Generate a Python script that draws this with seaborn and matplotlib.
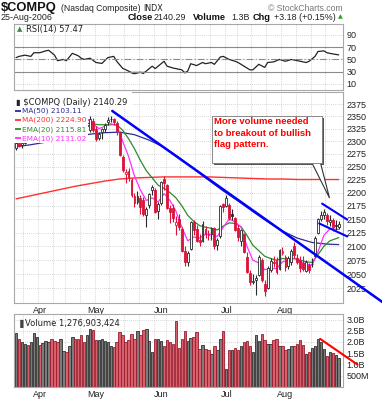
import matplotlib
matplotlib.use("Agg")
import matplotlib.pyplot as plt
from matplotlib.patches import Rectangle, Polygon
from matplotlib.ticker import NullLocator, FixedLocator, FixedFormatter
import seaborn as sns
import numpy as np
import pandas as pd

# ---------------- data ----------------
holidays = ["2006-04-14", "2006-05-29", "2006-07-04"]
dates = pd.bdate_range("2006-03-22", "2006-08-25").drop(pd.to_datetime(holidays))

opens = [2287, 2297, 2292, 2297, 2316, 2305, 2339, 2342,
         2343, 2335, 2346, 2358, 2362, 2340, 2332, 2309, 2310, 2327, 2312, 2354,
         2370, 2368, 2340, 2334, 2331, 2322, 2340,
         2325, 2306, 2318, 2325, 2338, 2344, 2345, 2336, 2318, 2268, 2235, 2241,
         2224, 2194, 2182, 2190, 2185, 2158, 2176, 2205, 2205, 2166,
         2180, 2226, 2214, 2170, 2170, 2140, 2150, 2132, 2092, 2072, 2095, 2144,
         2132, 2112, 2110, 2131, 2122, 2122, 2133, 2102, 2118, 2178,
         2174, 2176, 2160, 2152, 2134, 2110, 2122, 2080, 2052, 2036, 2040, 2048,
         2076, 2032, 2026, 2058, 2072, 2076, 2060, 2088,
         2080, 2064, 2072, 2100, 2078, 2076, 2070, 2056, 2066, 2068, 2082, 2124,
         2150, 2157, 2158, 2144, 2148, 2140, 2136]
highs = [2299, 2303, 2304, 2318, 2322, 2340, 2348, 2350,
         2350, 2347, 2362, 2366, 2368, 2344, 2335, 2318, 2330, 2332, 2358, 2375,
         2374, 2370, 2345, 2338, 2345, 2350, 2346,
         2330, 2318, 2326, 2336, 2348, 2350, 2347, 2340, 2320, 2272, 2246, 2247,
         2228, 2200, 2203, 2196, 2192, 2172, 2200, 2214, 2208, 2182,
         2222, 2232, 2216, 2176, 2178, 2155, 2160, 2136, 2100, 2092, 2146, 2148,
         2140, 2122, 2146, 2138, 2130, 2136, 2135, 2116, 2176, 2180,
         2195, 2180, 2168, 2154, 2140, 2130, 2124, 2090, 2058, 2050, 2048, 2084,
         2078, 2040, 2064, 2078, 2082, 2080, 2096, 2098,
         2084, 2082, 2096, 2108, 2086, 2082, 2082, 2076, 2070, 2078, 2118, 2152,
         2166, 2168, 2162, 2158, 2152, 2148, 2146]
lows = [2283, 2288, 2286, 2295, 2302, 2304, 2332, 2336,
        2330, 2330, 2344, 2352, 2336, 2326, 2305, 2304, 2306, 2303, 2310, 2350,
        2352, 2338, 2328, 2320, 2328, 2318, 2318,
        2300, 2302, 2304, 2318, 2332, 2338, 2333, 2312, 2270, 2240, 2219, 2222,
        2192, 2172, 2178, 2160, 2155, 2136, 2170, 2196, 2162, 2150,
        2176, 2204, 2168, 2142, 2145, 2120, 2130, 2090, 2065, 2065, 2093, 2120,
        2108, 2100, 2108, 2115, 2112, 2112, 2096, 2094, 2116, 2164,
        2172, 2148, 2148, 2128, 2110, 2100, 2088, 2052, 2030, 2032, 2014, 2046,
        2036, 2012, 2024, 2054, 2062, 2050, 2058, 2084,
        2056, 2060, 2066, 2078, 2068, 2054, 2056, 2054, 2052, 2062, 2080, 2122,
        2146, 2150, 2140, 2138, 2128, 2130, 2132]
closes = [2297, 2291, 2296, 2315, 2304, 2338, 2340, 2340,
          2336, 2345, 2359, 2361, 2339, 2331, 2310, 2312, 2326, 2311, 2355, 2371,
          2362, 2342, 2333, 2330, 2333, 2344, 2323,
          2305, 2314, 2324, 2333, 2343, 2345, 2338, 2321, 2273, 2244, 2239, 2229,
          2196, 2180, 2194, 2173, 2159, 2169, 2198, 2210, 2164, 2179,
          2220, 2219, 2170, 2163, 2152, 2145, 2135, 2091, 2072, 2087, 2144, 2130,
          2110, 2107, 2141, 2123, 2121, 2134, 2100, 2112, 2174, 2172,
          2190, 2153, 2155, 2130, 2117, 2129, 2090, 2054, 2037, 2038, 2043, 2081,
          2039, 2020, 2061, 2074, 2070, 2054, 2094, 2091,
          2062, 2079, 2092, 2085, 2072, 2061, 2060, 2072, 2058, 2069, 2115, 2150,
          2158, 2164, 2147, 2148, 2135, 2137, 2140.29]
volume_bn = [2.39, 2.14, 1.99, 1.91, 1.88, 2.00, 2.39, 2.20,
             1.88, 1.94, 2.05, 2.00, 2.15, 2.05, 1.99, 2.14, 1.60, 1.55, 1.80, 2.24,
             2.14, 2.14, 2.33, 1.99, 2.32, 2.58, 2.54,
             2.08, 2.08, 2.14, 2.05, 1.98, 1.83, 1.76, 2.00, 2.45, 2.33, 2.02, 2.08,
             2.36, 2.14, 2.51, 2.29, 2.54, 2.58, 2.05, 1.55, 2.14, 2.14,
             2.05, 1.83, 2.08, 1.99, 1.91, 2.92, 1.73, 2.14, 2.48, 2.05, 2.17, 2.20,
             2.45, 1.70, 1.88, 1.70, 1.63, 1.46, 1.84, 1.63, 2.14, 2.50,
             0.80, 1.63, 1.63, 1.74, 1.63, 1.80, 2.00, 2.06, 1.80, 1.55, 2.30, 2.06,
             2.36, 2.08, 1.90, 1.93, 2.08, 2.14, 1.83, 1.80,
             1.63, 1.70, 1.80, 1.80, 1.93, 2.08, 1.88, 1.46, 1.55, 1.74, 1.80, 2.14,
             1.99, 1.67, 1.38, 1.55, 1.49, 1.40, 1.277]

rsi_day = [0, 1, 3, 5, 6, 8, 10, 11, 13, 14, 16, 17, 19, 21, 22, 23, 25, 27, 29, 31,
           33, 34, 36, 38, 39, 40, 42, 43, 44, 46, 47, 48, 50, 51, 53, 56, 57, 58, 59,
           61, 63, 64, 66, 67, 69, 70, 72, 74, 75, 77, 79, 80, 82, 84, 85, 87, 89, 91,
           93, 94, 96, 98, 99, 101, 102, 104, 105, 107, 109]
rsi_val = [53, 55, 57, 55, 61, 61, 64, 65, 57, 48, 50, 48, 60, 56, 52, 50, 52, 45, 43.5, 53,
           55, 47, 35.5, 31, 28, 26.7, 29, 27, 31, 39, 35, 39, 47, 39, 36, 33, 28, 31, 43,
           40, 45, 43, 45, 42, 54, 55, 50, 47, 45, 39, 33, 33, 42, 37, 45, 46, 50, 47,
           50, 49, 47, 45, 47, 55, 63, 64, 61, 59, 57.47]

ma_day = [0, 5, 10, 15, 20, 25, 30, 35, 40, 45, 50, 55, 60, 65, 70, 75, 80, 85, 90,
          95, 100, 105, 109]
ma50 = [2289, 2293, 2298, 2303, 2309, 2314, 2317, 2318, 2313, 2302, 2288, 2268, 2246,
        2224, 2203, 2184, 2164, 2145, 2128, 2115, 2107, 2104, 2103.11]
ma200 = [2188, 2194, 2200, 2206, 2212, 2217, 2222, 2226, 2228, 2229, 2230, 2230, 2230,
         2230, 2229, 2228, 2227, 2226, 2226, 2225, 2225, 2225, 2224.90]
ema_day = [0, 4, 8, 12, 16, 20, 24, 28, 32, 34, 36, 38, 40, 42, 44, 46, 48, 50, 52, 54,
           56, 58, 60, 62, 64, 66, 68, 70, 72, 74, 76, 78, 80, 82, 84, 86, 88, 90, 92,
           94, 96, 98, 100, 102, 104, 106, 109]
ema20 = [2300, 2308, 2318, 2326, 2328, 2334, 2336, 2333, 2333, 2333, 2322, 2305, 2285,
         2262, 2242, 2228, 2214, 2208, 2200, 2190, 2175, 2157, 2146, 2138, 2135, 2133,
         2130, 2137, 2143, 2142, 2136, 2120, 2102, 2092, 2082, 2078, 2075, 2078, 2077,
         2078, 2075, 2072, 2071, 2085, 2100, 2110, 2115.81]
ema10 = [2295, 2305, 2330, 2345, 2330, 2350, 2345, 2325, 2335, 2332, 2300, 2270, 2232,
         2205, 2185, 2190, 2182, 2198, 2185, 2165, 2135, 2110, 2117, 2115, 2122, 2122,
         2118, 2135, 2150, 2145, 2135, 2100, 2075, 2070, 2058, 2060, 2060, 2072, 2075,
         2078, 2072, 2068, 2066, 2090, 2120, 2132, 2131.02]

price_ticks = list(range(2025, 2400, 25))
vol_ticks = [0.5, 1.0, 1.5, 2.0, 2.5, 3.0]
vol_labels = ["500M", "1.0B", "1.5B", "2.0B", "2.5B", "3.0B"]
rsi_ticks = [10, 30, 50, 70, 90]
month_names = ["Apr", "May", "Jun", "Jul", "Aug"]

# trend lines drawn on the chart: (day, value) end points
down_line = ([32.5, 123.8], [2361, 2001])
flag_upper = ([103.4, 111.9], [2179, 2149])
flag_lower = ([102.4, 111.9], [2142, 2118])
vol_line = ([102.7, 115.3], [2.14, 0.99])

# ---------------- styling ----------------
sns.set_style("white")
plt.rcParams["font.family"] = ["Liberation Sans", "DejaVu Sans"]

RED = "#dc143c"
BLK = "#2a2a2a"
GRID = "#c9c9c9"
SPINE = "#a8a8a8"

n = len(closes)
days = np.arange(n)
prev = np.r_[opens[0], closes[:-1]]
down = np.array(closes) < prev

month_pos = [int(np.argmax(dates.month == m)) for m in [4, 5, 6, 7, 8]]
week_pos = [i for i in range(1, n) if dates[i].weekday() < dates[i - 1].weekday()]
XL = (-0.7, 110.45)

W, H = 382, 400
fig = plt.figure(figsize=(W / 100, H / 100), dpi=100)


def box(l, t, r, b):
    return [l / W, 1 - b / H, (r - l) / W, (b - t) / H]


def ftxt(x, y, s, **kw):
    kw.setdefault("va", "center")
    fig.text(x / W, 1 - y / H, s, **kw)


axr = fig.add_axes(box(14, 24, 343, 90))
axp = fig.add_axes(box(14, 92, 343, 302.7))
axv = fig.add_axes(box(14, 314, 343, 386.7))

for ax in (axr, axp, axv):
    for s in ax.spines.values():
        s.set_color(SPINE)
        s.set_linewidth(0.8)
    ax.tick_params(length=0, labelsize=6.5, colors="#222222", pad=2.5)
    ax.yaxis.tick_right()
    for w in week_pos:
        ax.axvline(w - 0.5, color=GRID, lw=0.6, ls=(0, (1, 1.5)), zorder=0)

# ---------------- RSI panel ----------------
sns.lineplot(x=rsi_day, y=rsi_val, color="#222222", lw=0.9, ax=axr)
axr.fill_between(rsi_day, rsi_val, 30, where=np.array(rsi_val) < 30,
                 interpolate=True, color="#e06060", lw=0)
for v in rsi_ticks:
    axr.axhline(v, color=GRID, lw=0.6, ls=(0, (1, 1.5)), zorder=0)
axr.axhline(70, color="#8a8a8a", lw=0.8)
axr.axhline(30, color="#8a8a8a", lw=0.8)
axr.axhline(50, color="#8a8a8a", lw=0.8, ls=(0, (6, 2, 1, 2)))
axr.set_ylim(0, 108)
axr.set_xlim(*XL)
axr.set_yticks(rsi_ticks)
axr.set_xticks([])
axr.set_xlabel("")
axr.set_ylabel("")
axr.text(0.008, 0.92, "\u25b2", color="#3a8a3a", fontsize=5, transform=axr.transAxes,
         va="center", family="DejaVu Sans")
axr.text(0.035, 0.92, "RSI(14) 57.47", fontsize=6.0, transform=axr.transAxes,
         va="center", family="DejaVu Sans", color="#222222")

# ---------------- price panel ----------------
axp.set_yscale("log")
for v in price_ticks:
    axp.axhline(v, color=GRID, lw=0.6, ls=(0, (1, 1.5)), zorder=0)

sns.lineplot(x=ma_day, y=ma200, color="#ff3030", lw=1.0, ax=axp, zorder=2)
sns.lineplot(x=ma_day, y=ma50, color="#2b2b9a", lw=0.9, ax=axp, zorder=2)
sns.lineplot(x=ema_day, y=ema20, color="#2e8b2e", lw=0.9, ax=axp, zorder=2)
sns.lineplot(x=ema_day, y=ema10, color="#ff30ff", lw=0.9, ax=axp, zorder=2)

col = np.where(down, RED, BLK)
body_lo = np.minimum(opens, closes)
body_h = np.maximum(np.abs(np.array(closes) - np.array(opens)), 0.6)
face = [c if cl < op else "white" for c, op, cl in zip(col, opens, closes)]
axp.vlines(days, lows, highs, colors=col, lw=0.8, zorder=3)
axp.bar(days, body_h, bottom=body_lo, width=0.62, color=face, edgecolor=col,
        lw=0.6, zorder=4)

axp.plot(*down_line, color="#0000ff", lw=1.8, clip_on=False, zorder=5)
axp.plot(*flag_upper, color="#0000ff", lw=1.5, clip_on=False, zorder=5)
axp.plot(*flag_lower, color="#0000ff", lw=1.5, clip_on=False, zorder=5)

axp.set_ylim(2000, 2400)
axp.yaxis.set_minor_locator(NullLocator())
axp.yaxis.set_major_locator(FixedLocator(price_ticks))
axp.yaxis.set_major_formatter(FixedFormatter([str(t) for t in price_ticks]))
axp.set_xlim(*XL)
axp.set_xticks(month_pos)
axp.set_xticklabels(month_names)
axp.set_xlabel("")
axp.set_ylabel("")

# legend block (white background hides the April candles, as on the original)
axp.add_patch(Rectangle((0, 0.757), 0.226, 0.243, transform=axp.transAxes,
                        facecolor="white", edgecolor="none", zorder=6))
axp.add_patch(Rectangle((0, 0.93), 0.36, 0.07, transform=axp.transAxes,
                        facecolor="white", edgecolor="none", zorder=6))
axp.text(0.006, 0.952, "\u25ae " + r"\$COMPQ (Daily) 2140.29", color="#222222",
         fontsize=6.0, family="DejaVu Sans", transform=axp.transAxes, va="center",
         zorder=7)
legend_rows = [("MA(50) 2103.11", "#2b2b9a"),
               ("MA(200) 2224.90", "#ff3030"),
               ("EMA(20) 2115.81", "#2e8b2e"),
               ("EMA(10) 2131.02", "#ff30ff")]
for k, (s, c) in enumerate(legend_rows):
    yk = 0.909 - k * 0.043
    axp.plot([0.004, 0.022], [yk, yk], color=c, lw=1.3, transform=axp.transAxes,
             zorder=7, solid_capstyle="butt")
    axp.text(0.024, yk, s, color=c, fontsize=5.3, family="DejaVu Sans",
             transform=axp.transAxes, va="center", zorder=7)

# callout
def fx(x):
    return (x - 14) / 329


def fy(y):
    return (302.7 - y) / 210.7


axp.add_patch(Rectangle((fx(214), fy(165)), fx(324) - fx(214), fy(118) - fy(165),
                        transform=axp.transAxes, facecolor="#555555",
                        edgecolor="none", zorder=7, clip_on=False))
axp.add_patch(Polygon([(fx(311), fy(161)), (fx(320), fy(161)), (fx(329.5), fy(198))],
                      closed=True, transform=axp.transAxes, facecolor="white",
                      edgecolor="#333333", lw=0.8, zorder=8, clip_on=False))
axp.add_patch(Rectangle((fx(212), fy(163)), fx(322) - fx(212), fy(116) - fy(163),
                        transform=axp.transAxes, facecolor="white",
                        edgecolor="#777777", lw=0.6, zorder=9, clip_on=False))
axp.text(fx(214.5), fy(117.5), "More volume needed\nto breakout of bullish\nflag pattern.",
         transform=axp.transAxes, color="#ff0000", fontsize=6.8, fontweight="bold",
         va="top", ha="left", linespacing=1.35, zorder=10)

# ---------------- volume panel ----------------
vol_df = pd.DataFrame({"day": days, "vol": volume_bn,
                       "dir": np.where(down, "down", "up")})
sns.barplot(data=vol_df, x="day", y="vol", hue="dir",
            palette={"down": "#d8606c", "up": "#7c7c7c"}, dodge=False,
            width=0.82, saturation=1, legend=False, ax=axv, zorder=2)
for p in axv.patches:
    fc = p.get_facecolor()
    p.set_edgecolor("#9a1c2c" if fc[0] > 0.7 else "#2e2e2e")
    p.set_linewidth(0.6)
for v in vol_ticks:
    axv.axhline(v, color=GRID, lw=0.6, ls=(0, (1, 1.5)), zorder=0)
axv.plot(*vol_line, color="#ff0000", lw=1.5, clip_on=False, zorder=5)
axv.set_ylim(0, 3.25)
axv.set_yticks(vol_ticks)
axv.set_yticklabels(vol_labels)
axv.set_xlim(*XL)
axv.set_xticks(month_pos)
axv.set_xticklabels(month_names)
axv.set_xlabel("")
axv.set_ylabel("")
axv.text(0.008, 0.87, "\u2590", color="#444444", fontsize=6, transform=axv.transAxes,
         va="center", family="DejaVu Sans")
axv.text(0.032, 0.87, "Volume 1,276,903,424", fontsize=6.0, transform=axv.transAxes,
         va="center", family="DejaVu Sans", color="#222222")

# ---------------- header ----------------
ftxt(1, 8, r"\$COMPQ", fontsize=9.3, fontweight="bold", color="#111111")
ftxt(61, 8.5, "(Nasdaq Composite)", fontsize=6.2, color="#222222")
ftxt(143, 8.5, "INDX", fontsize=5.8, color="#222222", family="DejaVu Sans")
ftxt(268, 8.5, "\u00a9 StockCharts.com", fontsize=6.2, color="#777777")
ftxt(1, 17, "25-Aug-2006", fontsize=6.4, color="#222222")
ftxt(128, 17, "Close", fontsize=6.7, fontweight="bold", color="#111111")
ftxt(154, 17, "2140.29", fontsize=6.4, color="#222222")
ftxt(193, 17, "Volume", fontsize=6.7, fontweight="bold", color="#111111")
ftxt(231, 17, "1.3B", fontsize=6.4, color="#222222")
ftxt(253, 17, "Chg", fontsize=6.7, fontweight="bold", color="#111111")
ftxt(274, 17, "+3.18 (+0.15%)", fontsize=6.4, color="#222222")
ftxt(338, 17, "\u25b2", fontsize=4.5, color="#2e9a2e", family="DejaVu Sans")

fig.savefig("out.png", dpi=100)
